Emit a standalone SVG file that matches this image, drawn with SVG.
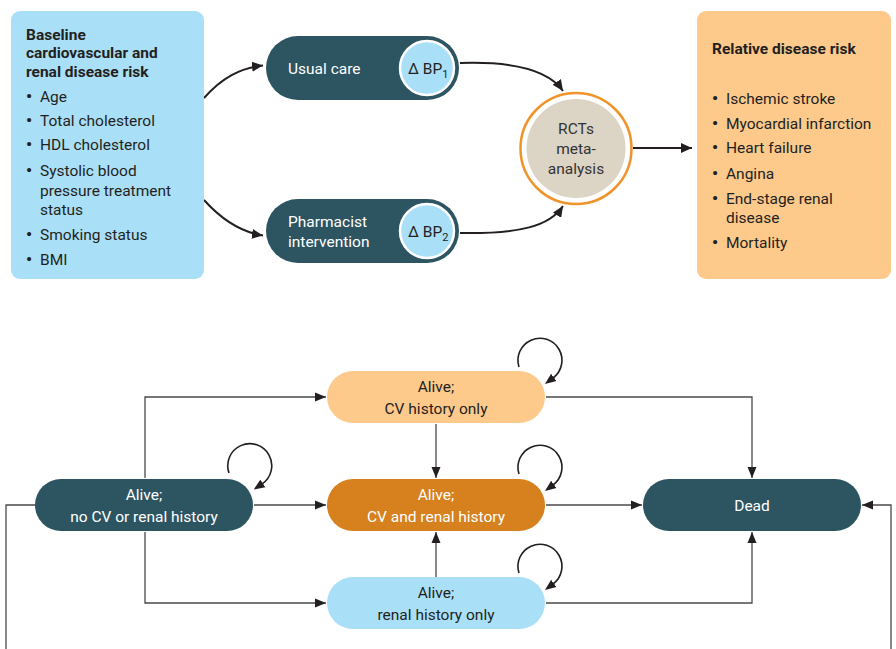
<svg xmlns="http://www.w3.org/2000/svg" width="896" height="649" viewBox="0 0 896 649">
<defs>
<style>
.t{font-family:Roboto,"Liberation Sans",sans-serif;font-size:15.5px;fill:#231f20}
.b{font-weight:bold}
.w{fill:#ffffff}
.c{text-anchor:middle}
.bu{font-weight:bold;font-size:17px}
.top{fill:none;stroke:#231f20;stroke-width:2}
.ln{fill:none;stroke:#4a4a4a;stroke-width:1.3}
.loop{fill:none;stroke:#231f20;stroke-width:1.6}
</style>
<marker id="ah" markerUnits="userSpaceOnUse" markerWidth="12" markerHeight="10" refX="11" refY="5" orient="auto"><path d="M0,0 L11,5 L0,10 z" fill="#231f20"/></marker>
<marker id="ahs" markerUnits="userSpaceOnUse" markerWidth="12" markerHeight="10" refX="11" refY="5" orient="auto"><path d="M0,0.5 L11,5 L0,9.5 z" fill="#231f20"/></marker>
<marker id="ahl" markerUnits="userSpaceOnUse" markerWidth="12" markerHeight="10" refX="1" refY="5" orient="auto"><path d="M0,0.5 L11,5 L0,9.5 z" fill="#231f20"/></marker>
</defs>
<rect width="896" height="649" fill="#ffffff"/>

<g id="connectors">
<path class="top" d="M204,98 C222,78 240,68 263,65.5" marker-end="url(#ah)"/>
<path class="top" d="M204,200 C222,220 240,232 263,235.5" marker-end="url(#ah)"/>
<path class="top" d="M460,63 C520,61 550,72 563,91" marker-end="url(#ah)"/>
<path class="top" d="M460,233 C520,234 550,226 563,206" marker-end="url(#ah)"/>
<path class="top" d="M633,148 L692,148" marker-end="url(#ah)"/>

<path class="ln" d="M145,478 V397 H326" marker-end="url(#ahs)"/>
<path class="ln" d="M145,532 V603 H326" marker-end="url(#ahs)"/>
<path class="ln" d="M254,505 H326" marker-end="url(#ahs)"/>
<path class="ln" d="M436,424 V478" marker-end="url(#ahs)"/>
<path class="ln" d="M436,577 V532" marker-end="url(#ahs)"/>
<path class="ln" d="M546,397 H752 V478" marker-end="url(#ahs)"/>
<path class="ln" d="M546,505 H642" marker-end="url(#ahs)"/>
<path class="ln" d="M546,603 H752 V532" marker-end="url(#ahs)"/>
<path class="ln" d="M35,505 H6 V649"/>
<path class="ln" d="M891,649 V505 H862" marker-end="url(#ahs)"/>

<path class="loop" d="M229,473 A22,22 0 1 1 262,484" marker-end="url(#ahl)"/>
<path class="loop" d="M519,367 A22,22 0 1 1 553,378" marker-end="url(#ahl)"/>
<path class="loop" d="M519,474 A22,22 0 1 1 553,485" marker-end="url(#ahl)"/>
<path class="loop" d="M519,573 A22,22 0 1 1 553,584" marker-end="url(#ahl)"/>
</g>

<g id="baseline-risk">
<rect x="11" y="11" width="193" height="268" rx="9" fill="#aadff8"/>
<text class="t b" x="26" y="40">Baseline</text>
<text class="t b" x="26" y="58">cardiovascular and</text>
<text class="t b" x="26" y="77">renal disease risk</text>
<g class="t">
<text class="bu" x="26" y="102">•</text><text x="40" y="102">Age</text>
<text class="bu" x="26" y="126">•</text><text x="40" y="126">Total cholesterol</text>
<text class="bu" x="26" y="150">•</text><text x="40" y="150">HDL cholesterol</text>
<text class="bu" x="26" y="176">•</text><text x="40" y="176">Systolic blood</text>
<text x="40" y="196">pressure treatment</text>
<text x="40" y="215">status</text>
<text class="bu" x="26" y="240">•</text><text x="40" y="240">Smoking status</text>
<text class="bu" x="26" y="265">•</text><text x="40" y="265">BMI</text>
</g>
</g>

<g id="usual-care">
<rect x="266" y="36" width="193" height="64" rx="32" fill="#2d5461"/>
<circle cx="427" cy="68" r="27" fill="#aadff8" stroke="#ffffff" stroke-width="2.5"/>
<text class="t w" x="288" y="74">Usual care</text>
<text class="t" x="408" y="74">Δ BP<tspan font-size="11" dy="4">1</tspan></text>
</g>

<g id="pharmacist">
<rect x="266" y="199" width="193" height="64" rx="32" fill="#2d5461"/>
<circle cx="427" cy="231" r="27" fill="#aadff8" stroke="#ffffff" stroke-width="2.5"/>
<text class="t w" x="288" y="227">Pharmacist</text>
<text class="t w" x="288" y="247">intervention</text>
<text class="t" x="408" y="237">Δ BP<tspan font-size="11" dy="4">2</tspan></text>
</g>

<g id="rcts">
<circle cx="576" cy="148.5" r="55.5" fill="#ffffff" stroke="#f0932a" stroke-width="2.5"/>
<circle cx="576" cy="148.5" r="49.5" fill="#dcd4c4"/>
<text class="t c" x="576" y="134" style="fill:#333333">RCTs</text>
<text class="t c" x="576" y="154" style="fill:#333333">meta-</text>
<text class="t c" x="576" y="174" style="fill:#333333">analysis</text>
</g>

<g id="relative-risk">
<rect x="697" y="11" width="194" height="268" rx="9" fill="#fdca8c"/>
<text class="t b" x="712" y="54">Relative disease risk</text>
<g class="t">
<text class="bu" x="712" y="104">•</text><text x="726" y="104">Ischemic stroke</text>
<text class="bu" x="712" y="129">•</text><text x="726" y="129">Myocardial infarction</text>
<text class="bu" x="712" y="153">•</text><text x="726" y="153">Heart failure</text>
<text class="bu" x="712" y="179">•</text><text x="726" y="179">Angina</text>
<text class="bu" x="712" y="204">•</text><text x="726" y="204">End-stage renal</text>
<text x="726" y="223">disease</text>
<text class="bu" x="712" y="248">•</text><text x="726" y="248">Mortality</text>
</g>
</g>

<g id="cv-only">
<rect x="327" y="371" width="218" height="52" rx="26" fill="#fdca8c"/>
<text class="t c" x="436" y="392">Alive;</text>
<text class="t c" x="436" y="414">CV history only</text>
</g>

<g id="no-history">
<rect x="35" y="479" width="218" height="52" rx="26" fill="#2d5461"/>
<text class="t c w" x="144" y="500">Alive;</text>
<text class="t c w" x="144" y="522">no CV or renal history</text>
</g>

<g id="cv-renal">
<rect x="327" y="479" width="218" height="52" rx="26" fill="#d6801e"/>
<text class="t c w" x="436" y="500">Alive;</text>
<text class="t c w" x="436" y="522">CV and renal history</text>
</g>

<g id="renal-only">
<rect x="327" y="577" width="218" height="52" rx="26" fill="#aadff8"/>
<text class="t c" x="436" y="598">Alive;</text>
<text class="t c" x="436" y="620">renal history only</text>
</g>

<g id="dead">
<rect x="643" y="479" width="218" height="52" rx="26" fill="#2d5461"/>
<text class="t c w" x="752" y="511">Dead</text>
</g>
</svg>
